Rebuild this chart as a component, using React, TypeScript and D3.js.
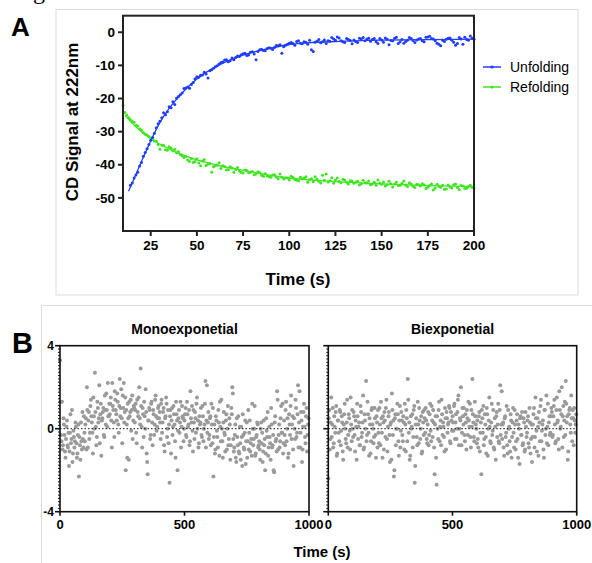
import React from "react";
import * as d3 from "d3";

// ---- panel A: CD kinetics (points read every second, split into even / odd seconds) ----
const unfoldTimesEven = d3.range(14, 201, 2);
const unfoldValuesEven = [
  -46.2, -44.0, -42.3, -39.3, -36.3, -33.9, -31.8, -28.8, -26.9, -24.3,
  -24.0, -22.8, -21.8, -19.4, -18.3, -16.8, -16.9, -15.2, -13.4, -13.0,
  -12.1, -13.8, -11.3, -10.4, -9.6, -9.0, -8.3, -8.6, -8.3, -7.2,
  -6.8, -6.3, -6.9, -5.9, -8.3, -5.3, -5.5, -4.9, -4.8, -4.6,
  -4.1, -6.3, -3.9, -3.3, -3.4, -2.8, -3.3, -2.9, -3.6, -5.3,
  -3.0, -2.2, -2.9, -3.4, -2.7, -2.0, -1.4, -2.6, -3.1, -2.2,
  -3.5, -2.8, -1.8, -1.6, -2.0, -2.7, -1.9, -3.4, -2.3, -1.7,
  -3.8, -2.6, -1.5, -2.9, -3.3, -2.4, -1.9, -3.1, -2.0, -2.6,
  -1.5, -1.2, -2.0, -3.3, -4.1, -2.8, -1.8, -2.4, -3.9, -1.6,
  -3.6, -2.2, -1.1, -2.1,
];
const unfoldTimesOdd = d3.range(15, 200, 2);
const unfoldValuesOdd = [
  -45.5, -43.1, -40.4, -37.4, -35.2, -32.6, -30.5, -27.6, -25.8, -24.9,
  -22.5, -21.0, -19.9, -18.9, -17.0, -16.5, -15.8, -14.0, -13.6, -12.9,
  -12.6, -11.6, -10.9, -10.1, -9.1, -8.4, -8.9, -7.8, -7.6, -7.3,
  -6.5, -7.0, -6.0, -6.6, -5.8, -5.1, -5.6, -4.7, -5.2, -4.0,
  -3.8, -4.4, -3.6, -3.1, -3.9, -2.6, -3.5, -3.0, -2.4, -5.8,
  -2.7, -3.2, -2.3, -2.6, -1.6, -2.4, -1.7, -2.9, -1.9, -2.5,
  -2.3, -3.1, -2.0, -2.6, -1.8, -2.2, -2.9, -1.9, -3.0, -2.1,
  -2.5, -1.8, -3.4, -2.2, -2.8, -1.6, -2.5, -2.3, -1.9, -2.9,
  -1.4, -1.9, -2.6, -3.6, -2.4, -2.1, -1.7, -3.0, -3.4, -2.0,
  -1.5, -2.4, -1.8,
];
const refoldTimesEven = d3.range(10, 201, 2);
const refoldValuesEven = [
  -22.0, -25.0, -26.3, -27.2, -28.3, -29.6, -30.8, -31.5, -32.3, -32.9,
  -35.3, -34.2, -35.6, -35.0, -35.3, -36.1, -37.3, -37.5, -39.0, -39.3,
  -38.2, -40.3, -38.4, -39.8, -42.3, -40.3, -39.4, -40.3, -41.6, -40.6,
  -42.3, -40.8, -42.3, -41.6, -42.4, -42.0, -42.8, -42.4, -43.5, -43.3,
  -43.8, -43.0, -44.2, -43.8, -43.9, -44.6, -43.8, -44.7, -43.8, -44.1,
  -45.3, -44.2, -43.6, -45.0, -43.2, -42.8, -44.8, -45.6, -44.0, -45.4,
  -44.6, -45.8, -44.9, -45.2, -46.1, -44.7, -45.5, -46.0, -45.3, -44.6,
  -45.9, -46.4, -45.0, -46.7, -45.3, -46.2, -44.9, -46.6, -45.8, -46.9,
  -46.0, -45.7, -47.2, -46.3, -47.6, -45.9, -46.8, -47.4, -46.1, -47.0,
  -45.8, -47.5, -46.4, -47.1, -46.2, -47.0,
];
const refoldTimesOdd = d3.range(11, 200, 2);
const refoldValuesOdd = [
  -24.2, -25.7, -26.9, -28.1, -29.1, -30.3, -31.0, -31.9, -32.8, -33.9,
  -34.0, -35.5, -34.6, -35.8, -36.4, -36.9, -37.8, -38.6, -38.1, -39.0,
  -39.5, -38.9, -40.2, -39.6, -40.6, -40.1, -41.1, -40.5, -41.5, -41.0,
  -41.4, -41.9, -42.5, -41.7, -42.3, -43.0, -42.1, -43.2, -42.7, -43.6,
  -43.1, -43.7, -42.8, -44.3, -44.0, -43.5, -44.4, -44.8, -44.2, -43.6,
  -44.5, -45.1, -44.3, -45.5, -44.7, -45.2, -43.9, -44.6, -45.0, -44.4,
  -45.3, -44.8, -45.6, -45.0, -45.7, -45.4, -44.9, -45.8, -46.2, -45.5,
  -45.2, -46.0, -45.7, -45.9, -46.3, -45.6, -46.1, -45.4, -46.5, -45.9,
  -46.4, -46.1, -46.8, -45.8, -47.0, -46.5, -46.2, -47.3, -46.7, -46.0,
  -46.9, -46.3, -47.2, -46.6, -46.8,
];
// fitted curves
const unfoldFitTimes = [13, 15, 20, 25, 30, 35, 40, 45, 50, 55, 60, 65, 70, 75, 80, 90, 100, 110, 125, 150, 175, 200];
const unfoldFitValues = [-48, -45.5, -39, -32.8, -27.2, -23, -19.6, -16.6, -14.1, -12.1, -10.5, -9.1, -7.9, -6.9, -6.1, -4.8, -3.7, -3.2, -2.8, -2.4, -2.2, -2.1];
const refoldFitTimes = [11, 15, 20, 25, 30, 35, 40, 50, 60, 70, 80, 90, 100, 125, 150, 175, 200];
const refoldFitValues = [-25, -27.5, -30, -32, -33.8, -35.2, -36.5, -38.5, -40, -41.2, -42.2, -43.2, -44, -45.1, -45.8, -46.3, -46.6];

const aXTicks = [25, 50, 75, 100, 125, 150, 175, 200];
const aYTicks = [0, -10, -20, -30, -40, -50];
const legendLabels = ["Unfolding", "Refolding"];

// ---- panel B: residuals (first set at t = 0,4,8..., second set at t = 2,6,10...) ----
const residualTimesA = d3.range(0, 1000, 4);
const residualTimesB = d3.range(2, 1000, 4);
const monoResidualsA = [
  3.3, -0.3, 1.3, -0.8, 0.2, -1.1, -0.5, 0.4, -0.9, -1.8, -0.2, -0.7, 0.9, -1.2, -0.4, -0.6, 0.1, -1.4, -0.3, -2.3, -0.8, 0.3, -1.0, -0.5, 0.6,
  -0.6, 0.5, 2.0, -0.9, 0.8, -0.2, 1.4, 0.3, -1.2, 0.6, 2.7, 0.1, -0.4, 1.0, 0.5, -0.7, 1.2, 0.4, 0.8, -0.3, 1.6, 0.2, 0.9, 2.2, 0.6,
  0.7, 1.5, -0.9, 1.1, 0.3, 1.8, 0.9, 0.4, 1.3, -0.2, 2.4, 1.0, 0.5, 1.6, 2.2, 0.8, -2.0, 0.2, 1.2, -1.5, 0.6, 1.4, 0.9, -0.5, 1.1,
  0.3, 1.2, -0.7, 0.8, 1.5, 0.5, 2.9, 0.1, 1.0, -0.4, 0.6, 1.9, -1.2, -2.2, 0.4, 0.9, -0.3, 1.3, -0.8, 0.7, 0.2, 1.6, -0.1, 0.5, 1.1,
  0.8, -0.5, 1.4, 0.3, 1.0, -1.1, 0.6, 1.2, 0.0, -0.7, -2.6, 0.9, 0.4, -0.3, 1.1, 0.2, -1.4, 0.7, -2.0, 0.5, -0.2, 1.3, 0.1, 0.6, -0.6,
  0.4, 1.0, -0.4, 0.7, 0.2, -0.8, 1.8, 0.3, -0.1, 0.9, -0.5, 0.5, 1.2, 0.0, -0.9, 0.6, 0.3, -0.3, 1.1, -0.6, 0.2, 2.3, 0.4, -0.2, 0.8,
  -0.3, 0.6, 1.2, -0.7, -2.3, 0.2, -1.0, 0.4, -0.4, 0.9, -1.3, 0.1, 1.4, -0.6, 0.3, -0.2, -1.1, 0.7, 0.0, -0.8, 0.5, -1.5, 1.0, 2.0, -0.5,
  -0.9, 0.2, -1.6, -0.4, 0.6, -1.2, -0.7, 0.1, -1.8, -0.3, -1.0, 0.4, -0.6, -1.4, 0.9, -0.2, -1.1, -0.5, 1.2, -0.8, 0.0, -1.3, -0.4, 0.3, -0.9,
  -0.6, -1.5, 0.3, -0.2, -1.1, -0.8, -2.0, 0.5, -0.4, -1.3, 0.1, -0.7, 1.0, -0.9, -0.3, -2.1, 0.6, -0.5, 1.8, -1.0, 0.2, -0.6, 1.1, -0.2, -1.2,
  0.4, -0.8, 1.3, 0.0, -1.4, 0.7, -0.3, 1.6, 0.2, -1.0, 0.5, -0.5, 1.0, -0.2, 2.1, 0.3, -0.9, 0.8, -1.6, 0.1, 1.2, -0.4, 0.6, -1.1, 0.2,
];
const monoResidualsB = [
  1.3, -0.6, -1.0, 0.5, -0.3, -1.4, 0.1, -0.8, -0.2, -1.1, 0.7, -0.5, -1.6, -0.1, -0.9, 0.3, -0.7, -1.2, 0.2, -0.4, -1.5, -0.6, 0.8, -0.9, -0.2,
  0.2, -1.0, 0.9, 0.4, -0.5, 1.1, 0.6, -0.2, 1.5, 0.0, 0.8, -0.8, 1.3, 0.3, 2.1, 0.7, -1.3, 0.5, 1.0, -0.4, 0.9, 1.7, 0.1, 0.6, 1.2,
  1.2, 0.4, 2.2, 0.9, -0.4, 1.4, 0.7, 1.7, 0.2, 1.1, 0.6, 1.9, -0.7, 1.0, 0.3, 1.5, 0.9, -1.4, 0.5, 1.3, 0.8, -0.1, 1.6, 0.4, 1.0,
  0.9, -0.2, 1.4, 0.6, 2.0, 0.2, 1.1, -0.9, 0.7, 1.3, 0.0, 0.8, -1.6, 0.4, 1.0, -0.5, 1.2, 0.3, 0.9, -0.3, 1.4, 0.6, 0.1, 1.0, 0.5,
  0.3, 1.2, -0.2, 0.8, -0.8, 0.5, 1.5, -0.4, 0.9, 0.2, 0.6, -1.2, 1.0, 0.1, 0.7, -0.6, 1.3, 0.4, -0.1, 0.9, 0.3, -0.9, 1.1, 0.5, 0.0,
  0.7, -0.3, 1.3, 0.1, 0.9, -0.6, 0.5, 1.1, -1.1, 0.3, 0.8, -0.2, 1.5, 0.4, -0.7, 0.2, 1.0, -0.4, 0.6, 0.0, 1.2, -0.9, 2.1, 0.3, -0.5,
  0.5, -0.8, 0.2, 1.0, -0.4, -1.2, 0.6, -0.1, -0.9, 0.3, 1.3, -0.6, 0.0, -1.4, 0.8, -0.3, 0.4, -1.0, 1.1, -0.5, 0.2, -0.8, 0.7, 1.7, -1.1,
  -0.3, -1.4, 0.5, -0.8, -1.1, 0.1, -1.5, -0.4, 0.7, -0.9, -0.2, -1.7, 0.3, -0.6, -1.0, 0.4, -0.7, -1.3, 0.0, -0.5, 1.1, -1.2, -0.3, 0.2, -0.8,
  -1.0, 0.0, -0.7, -1.6, 0.4, -0.5, -1.2, -0.1, 0.8, -0.9, -0.4, -1.5, 0.2, -0.8, -2.0, 0.3, -0.6, -1.1, 1.4, -0.3, -0.9, 0.5, -0.2, 1.2, -0.7,
  -0.3, 0.9, -0.6, 0.5, -1.2, 0.2, 1.1, -0.5, 0.6, -1.8, 0.0, 1.4, -0.4, 0.7, -0.9, 1.8, -0.2, 0.4, -1.0, 0.8, 0.1, -0.7, 1.0, -0.3, 0.5,
];
const biResidualsA = [
  -2.4, 0.9, -0.5, 1.5, 0.2, -0.9, 0.6, -0.2, 1.1, -1.2, 0.4, -0.6, 0.8, -0.1, 0.3, -1.5, 0.7, 0.0, -0.7, 1.4, -0.3, 0.5, -1.0, 0.2, 0.9,
  -0.4, 0.6, -1.1, 0.1, 1.2, -0.5, 0.3, -0.8, 0.8, -0.2, 1.6, -0.9, 0.4, 2.3, -0.3, 0.7, -1.3, 0.2, -0.6, 1.0, 0.0, -0.4, 0.5, -1.4, 0.3,
  0.9, -0.7, 0.2, 1.3, -0.2, 0.6, -1.0, 0.4, 1.0, -0.5, 0.1, 0.8, -1.6, 0.3, 1.7, -0.3, -2.3, 0.5, -0.8, 0.0, 0.7, -1.3, 1.1, -0.1, 0.4,
  -0.6, 0.3, 1.2, -1.1, 0.5, 2.4, -0.2, -1.5, 0.6, 0.1, -0.9, 0.9, -2.6, 0.2, -0.4, 1.3, -0.7, 0.4, 0.0, -1.2, 0.8, -0.3, 0.5, 1.0, -0.5,
  0.2, -0.8, 0.7, -0.1, 1.1, -0.4, 0.3, -2.2, 0.6, -2.7, 0.0, 0.9, -0.6, 0.4, 1.4, -0.3, 0.1, -1.1, 0.5, 0.8, -0.2, 0.3, 1.0, -0.7, 0.4,
  0.6, -0.1, 1.2, 0.3, -0.5, 0.8, 1.6, 0.0, 0.4, -0.8, 1.0, 0.2, -0.3, 0.7, -1.0, 0.5, 1.3, 0.1, -0.4, 0.9, 2.4, 0.3, -0.6, 0.6, 0.0,
  0.4, -0.9, 0.8, -0.2, -2.2, 0.5, 1.1, -0.5, 0.2, -1.2, 0.7, 0.0, 1.5, -0.6, 0.3, -0.3, 0.9, -1.0, 0.1, 0.6, -0.4, 1.2, -0.7, 2.1, 0.2,
  -0.5, 0.3, -1.3, 0.6, -0.2, -0.8, 0.9, 0.1, -1.1, 0.4, -0.4, 1.0, -0.9, 0.2, -0.6, 0.7, -1.4, 0.0, 0.5, -0.3, 0.8, -0.7, 0.3, -1.0, 0.1,
  -0.2, 0.6, -0.9, 0.3, -0.5, -1.6, 0.2, 1.0, -0.4, 0.5, -1.1, 0.1, 0.8, -0.6, 1.4, -0.1, 0.4, -1.4, 0.9, 0.0, -0.7, 1.2, 0.3, -0.3, 0.6,
  0.8, -0.3, 1.1, 0.2, -0.6, 1.5, 0.4, -1.0, 0.9, 0.1, 2.0, 0.6, -0.4, 1.3, 2.3, 0.3, -1.5, 0.7, 1.0, -0.2, 0.5, 0.9, -0.8, 0.4, 0.2,
];
const biResidualsB = [
  0.5, -1.0, 0.3, -0.4, 1.0, -0.7, 0.1, 0.8, -1.3, 0.4, -0.2, 0.9, -0.8, 0.6, -1.1, 0.2, 1.2, -0.5, 0.3, -0.9, 0.7, -0.1, 1.5, -0.6, 0.0,
  0.8, -0.3, 0.4, -1.5, 0.6, 0.1, -0.8, 1.1, -0.4, 0.3, -1.0, 0.7, 0.0, -0.6, 1.3, -0.2, 0.5, -1.2, 0.9, 0.2, -0.7, 1.0, -0.3, 0.6, -0.9,
  -0.2, 1.0, -0.8, 0.5, -1.4, 0.3, 0.8, -0.4, 1.4, -1.1, 0.6, -0.3, 0.2, -1.5, 0.9, 0.4, -2.0, 0.7, 0.0, 1.2, -0.6, 0.4, -0.9, 0.8, -0.3,
  0.6, -1.0, 0.2, 0.9, -0.6, 1.4, 0.3, -1.3, 0.0, 0.7, -0.4, 1.1, -1.8, 0.5, -0.8, 0.2, 1.0, -0.5, 0.6, -1.1, 0.3, 0.9, -0.2, 0.4, -0.7,
  0.8, -0.3, 1.2, -0.6, 0.4, 0.9, -0.9, 0.2, -1.4, 0.6, -0.5, 1.3, 0.1, -0.8, 0.7, 0.3, -0.4, 1.0, -1.0, 0.5, 0.2, 1.1, -0.6, 0.8, -0.1,
  0.3, 1.1, -0.5, 0.7, 0.0, 1.4, -0.8, 0.5, 2.0, -0.2, 0.6, 1.0, -0.6, 0.3, 0.9, -0.3, 0.4, 1.2, -0.9, 0.1, 0.7, -0.4, 1.3, 0.2, -0.7,
  -0.5, 0.6, -1.1, 0.3, 0.9, -0.2, -0.8, 0.7, -0.4, 1.0, -1.3, 0.4, 0.1, -0.7, 1.2, -0.1, -0.9, 0.5, -1.5, 0.8, 0.2, -0.6, 0.9, -0.3, 1.8,
  0.2, -0.9, 0.5, -0.4, 1.1, -1.2, 0.0, -0.6, 0.7, -1.4, 0.3, -0.2, 0.9, -1.0, 0.4, -0.5, 0.2, -1.7, 0.6, -0.3, -0.8, 0.5, -1.1, 0.8, -0.4,
  0.4, -0.7, 1.0, -1.2, 0.2, -0.4, 0.7, -0.9, 1.5, -0.1, 0.5, -1.3, 0.3, 1.1, -0.6, 0.2, -1.0, 0.9, -0.3, 1.6, 0.1, -0.8, 0.6, -0.2, 1.0,
  -0.4, 0.6, 1.4, -0.7, 0.9, 0.3, -0.5, 1.8, 0.0, 0.7, -0.9, 1.1, 0.4, -0.3, 1.2, 0.6, -1.1, 0.9, 0.2, 1.6, -0.6, 0.5, 1.0, -0.2, 0.7,
];
const bXTicks = [0, 500, 1000];
const bYTicks = [4, 0, -4];
const bTitles = ["Monoexponetial", "Biexponetial"];

const FONT = "'Liberation Sans', Arial, Helvetica, sans-serif";
const BLUE = "#1f3dff";
const GREEN = "#3de61e";
const GREY = "#9a9a9a";

const pairs = (times: number[], values: number[]) => times.map((t, i) => [t, values[i]] as [number, number]);

const PanelA = () => {
  const x = d3.scaleLinear().domain([10, 200]).range([123, 474]);
  const y = d3.scaleLinear().domain([-60, 5]).range([231, 15.7]);
  const line = d3
    .line<[number, number]>()
    .x(d => x(d[0]))
    .y(d => y(d[1]))
    .curve(d3.curveMonotoneX);
  const unfoldFit = line(pairs(unfoldFitTimes, unfoldFitValues));
  const refoldFit = line(pairs(refoldFitTimes, refoldFitValues));
  const unfoldPts = [...pairs(unfoldTimesEven, unfoldValuesEven), ...pairs(unfoldTimesOdd, unfoldValuesOdd)];
  const refoldPts = [...pairs(refoldTimesEven, refoldValuesEven), ...pairs(refoldTimesOdd, refoldValuesOdd)];
  const colors = [BLUE, GREEN];

  return (
    <g fontFamily={FONT}>
      <rect x={56} y={9.5} width={522} height={285.5} fill="none" stroke="#dcdcdc" strokeWidth={1} />
      <text x={11} y={36} fontSize={26} fontWeight="bold">A</text>

      {refoldPts.map((d, i) => (
        <circle key={"r" + i} cx={x(d[0])} cy={y(d[1])} r={1.5} fill={GREEN} />
      ))}
      {unfoldPts.map((d, i) => (
        <circle key={"u" + i} cx={x(d[0])} cy={y(d[1])} r={1.5} fill={BLUE} />
      ))}
      <path d={refoldFit ?? ""} fill="none" stroke={GREEN} strokeWidth={1.3} />
      <path d={unfoldFit ?? ""} fill="none" stroke={BLUE} strokeWidth={1.3} />

      <rect x={x(10)} y={y(5)} width={x(200) - x(10)} height={y(-60) - y(5)} fill="none" stroke="#222" strokeWidth={2} />

      {aYTicks.map(v => (
        <g key={"yt" + v}>
          <line x1={x(10) - 5} x2={x(10)} y1={y(v)} y2={y(v)} stroke="#222" strokeWidth={2} />
          <text x={x(10) - 8} y={y(v)} dy="0.35em" textAnchor="end" fontSize={13.5} fontWeight="bold">
            {v}
          </text>
        </g>
      ))}
      {aXTicks.map(v => (
        <g key={"xt" + v}>
          <line x1={x(v)} x2={x(v)} y1={y(-60)} y2={y(-60) + 5} stroke="#222" strokeWidth={2} />
          <text x={x(v)} y={250} textAnchor="middle" fontSize={13.5} fontWeight="bold">
            {v}
          </text>
        </g>
      ))}

      <text transform="translate(78,122) rotate(-90)" textAnchor="middle" fontSize={17} fontWeight="bold">
        CD Signal at 222nm
      </text>
      <text x={298} y={285} textAnchor="middle" fontSize={17} fontWeight="bold">
        Time (s)
      </text>

      {legendLabels.map((label, i) => (
        <g key={label} transform={`translate(483,${67 + i * 20})`}>
          <line x1={0} x2={18} y1={0} y2={0} stroke={colors[i]} strokeWidth={1.5} />
          <circle cx={9} cy={0} r={1.6} fill={colors[i]} />
          <text x={27} y={0} dy="0.35em" fontSize={14}>
            {label}
          </text>
        </g>
      ))}
    </g>
  );
};

const ResidualPlot = ({ left, right, values, title, showYLabels }: {
  left: number; right: number; values: [number, number][]; title: string; showYLabels: boolean;
}) => {
  const x = d3.scaleLinear().domain([0, 1000]).range([left, right]);
  const y = d3.scaleLinear().domain([-4, 4]).range([511.7, 345.7]);
  const minor = d3.range(-4, 4.001, 0.16);
  return (
    <g>
      <text x={(left + right) / 2} y={334} textAnchor="middle" fontSize={14} fontWeight="bold">
        {title}
      </text>
      {values.map((d, i) => (
        <circle key={i} cx={x(d[0])} cy={y(d[1])} r={2} fill={GREY} />
      ))}
      <line x1={x(0)} x2={x(1000)} y1={y(0)} y2={y(0)} stroke="#111" strokeWidth={1} strokeDasharray="1.5,2" />
      <rect x={x(0)} y={y(4)} width={x(1000) - x(0)} height={y(-4) - y(4)} fill="none" stroke="#111" strokeWidth={1.6} />
      {minor.map((v, i) => (
        <line key={"m" + i} x1={x(0) - 2} x2={x(0)} y1={y(v)} y2={y(v)} stroke="#111" strokeWidth={1} />
      ))}
      {bYTicks.map(v => (
        <g key={"by" + v}>
          <line x1={x(0) - 5} x2={x(0)} y1={y(v)} y2={y(v)} stroke="#111" strokeWidth={1.6} />
          {showYLabels && (
            <text x={x(0) - 6} y={y(v)} dy="0.35em" textAnchor="end" fontSize={12} fontWeight="bold">
              {v}
            </text>
          )}
        </g>
      ))}
      {bXTicks.map(v => (
        <g key={"bx" + v}>
          <line x1={x(v)} x2={x(v)} y1={y(-4)} y2={y(-4) + 4} stroke="#111" strokeWidth={1.6} />
          <text x={x(v)} y={529} textAnchor="middle" fontSize={13} fontWeight="bold">
            {v}
          </text>
        </g>
      ))}
    </g>
  );
};

const PanelB = () => {
  const mono = [...pairs(residualTimesA, monoResidualsA), ...pairs(residualTimesB, monoResidualsB)];
  const bi = [...pairs(residualTimesA, biResidualsA), ...pairs(residualTimesB, biResidualsB)];
  return (
    <g fontFamily={FONT}>
      <path d="M592,305.5 H41.5 V563" fill="none" stroke="#dcdcdc" strokeWidth={1} />
      <text x={12} y={353} fontSize={29} fontWeight="bold">B</text>
      <ResidualPlot left={60} right={309} values={mono} title={bTitles[0]} showYLabels={true} />
      <ResidualPlot left={328.3} right={576.7} values={bi} title={bTitles[1]} showYLabels={false} />
      <text x={322} y={557} textAnchor="middle" fontSize={15} fontWeight="bold">
        Time (s)
      </text>
    </g>
  );
};

export default function App() {
  return (
    <svg width={592} height={563} style={{ position: "absolute", left: 0, top: 0, background: "#fff" }}>
      <text x={33} y={-1} fontFamily="'Liberation Serif', 'Times New Roman', serif" fontSize={24}>
        g
      </text>
      <PanelA />
      <PanelB />
    </svg>
  );
}
